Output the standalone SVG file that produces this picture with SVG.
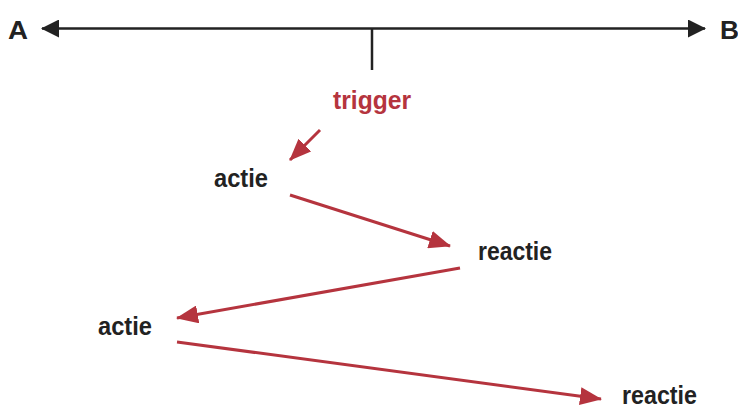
<svg xmlns="http://www.w3.org/2000/svg" width="738" height="410" viewBox="0 0 738 410">
<defs>
<style>
.lbl{font-family:"Liberation Sans",Arial,sans-serif;font-weight:bold;font-size:26px;fill:#222}
.red{fill:#b5343e}
.axis{stroke:#222;stroke-width:2.5;fill:none}
.conn{stroke:#b5343e;stroke-width:3;fill:none}
</style>
<marker id="ak" markerUnits="userSpaceOnUse" markerWidth="18" markerHeight="18" refX="17" refY="9" orient="auto-start-reverse" viewBox="0 0 18 18">
<path d="M0,0 L18,9 L0,18 Z" fill="#222"/>
</marker>
<marker id="ar" markerUnits="userSpaceOnUse" markerWidth="22" markerHeight="18" refX="21" refY="9" orient="auto" viewBox="0 0 22 18">
<path d="M0,0 L22,9 L0,18 Z" fill="#b5343e"/>
</marker>
</defs>
<g id="axis">
<line class="axis" x1="42" y1="28.5" x2="705" y2="28.5" marker-start="url(#ak)" marker-end="url(#ak)"/>
<line class="axis" x1="372" y1="28.5" x2="372" y2="70"/>
<text class="lbl" x="8" y="39" font-size="30" textLength="20" lengthAdjust="spacingAndGlyphs">A</text>
<text class="lbl" x="720" y="39" font-size="30" textLength="19" lengthAdjust="spacingAndGlyphs">B</text>
</g>
<g id="trigger"><text class="lbl red" x="333" y="109" font-size="25" textLength="78" lengthAdjust="spacingAndGlyphs">trigger</text></g>
<g id="actie1"><text class="lbl" x="214" y="187" textLength="54" lengthAdjust="spacingAndGlyphs">actie</text></g>
<g id="reactie1"><text class="lbl" x="478" y="260" textLength="74" lengthAdjust="spacingAndGlyphs">reactie</text></g>
<g id="actie2"><text class="lbl" x="98" y="335" textLength="54" lengthAdjust="spacingAndGlyphs">actie</text></g>
<g id="reactie2"><text class="lbl" x="622" y="404" textLength="75" lengthAdjust="spacingAndGlyphs">reactie</text></g>
<g id="connectors">
<line class="conn" x1="320" y1="130" x2="290" y2="160" marker-end="url(#ar)"/>
<line class="conn" x1="290" y1="195" x2="450" y2="246" marker-end="url(#ar)"/>
<line class="conn" x1="460" y1="268" x2="177" y2="318" marker-end="url(#ar)"/>
<line class="conn" x1="177" y1="342" x2="601" y2="399" marker-end="url(#ar)"/>
</g>
</svg>
